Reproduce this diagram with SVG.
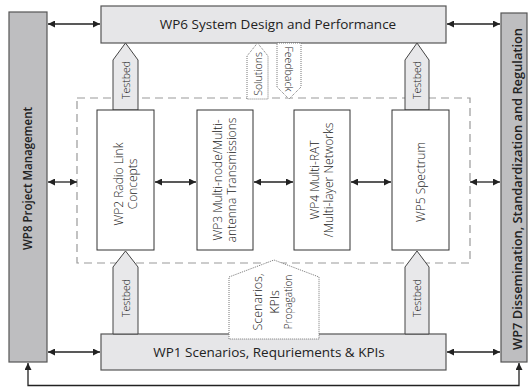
<svg xmlns="http://www.w3.org/2000/svg" width="529" height="387" viewBox="0 0 529 387">
<style>
text{font-family:"Open Sans","Noto Sans","Liberation Sans",sans-serif;fill:#222}
.side{fill:#bebec0;stroke:#555;stroke-width:1.2}
.wide{fill:#e6e6e8;stroke:#555;stroke-width:1.2}
.inner{fill:#fff;stroke:#333;stroke-width:1}
.tb{fill:#e8e8ea;stroke:#444;stroke-width:1}
.dot{fill:#fff;stroke:#777;stroke-width:1;stroke-dasharray:1,1}
.con{fill:none;stroke:#222;stroke-width:1.3}
.big{font-size:13.5px;text-anchor:middle}
.bold{font-size:12.5px;font-weight:600;text-anchor:middle}
.in{font-size:12px;font-weight:300;text-anchor:middle}
.lab{font-size:10.5px;font-weight:300;text-anchor:middle}
.sm{font-size:10.5px;font-weight:300;text-anchor:middle}
</style>
<defs>
<marker id="ah" viewBox="0 0 8 8" refX="8" refY="4" markerWidth="7" markerHeight="7" markerUnits="userSpaceOnUse" orient="auto-start-reverse">
<path d="M0,0 L8,4 L0,8 z" fill="#222"/>
</marker>
</defs>
<rect x="77" y="98" width="393" height="165" fill="none" stroke="#999" stroke-width="1.2" stroke-dasharray="8,5"/>
<g id="connectors">
<line class="con" x1="48" y1="24" x2="100" y2="24" marker-start="url(#ah)" marker-end="url(#ah)"/>
<line class="con" x1="447" y1="24" x2="500" y2="24" marker-start="url(#ah)" marker-end="url(#ah)"/>
<line class="con" x1="48" y1="352" x2="100" y2="352" marker-start="url(#ah)" marker-end="url(#ah)"/>
<line class="con" x1="447" y1="352" x2="500" y2="352" marker-start="url(#ah)" marker-end="url(#ah)"/>
<line class="con" x1="48" y1="182" x2="77" y2="182" marker-start="url(#ah)" marker-end="url(#ah)"/>
<line class="con" x1="470" y1="182" x2="500" y2="182" marker-start="url(#ah)" marker-end="url(#ah)"/>
<line class="con" x1="155" y1="182" x2="196" y2="182" marker-start="url(#ah)" marker-end="url(#ah)"/>
<line class="con" x1="254" y1="182" x2="293" y2="182" marker-start="url(#ah)" marker-end="url(#ah)"/>
<line class="con" x1="351" y1="182" x2="391" y2="182" marker-start="url(#ah)" marker-end="url(#ah)"/>
<path class="con" d="M519,363 L519,385.5 L28,385.5 L28,363" marker-start="url(#ah)" marker-end="url(#ah)"/>
</g>
<g id="wp8">
<rect class="side" x="9" y="12" width="38" height="350"/>
<text class="bold" transform="translate(32,178.5) rotate(-90)" textLength="143" lengthAdjust="spacingAndGlyphs">WP8 Project Management</text>
</g>
<g id="wp7">
<rect class="side" x="501" y="13" width="26" height="349"/>
<text class="bold" transform="translate(522,189) rotate(-90)" textLength="322" lengthAdjust="spacingAndGlyphs">WP7 Dissemination, Standardization and Regulation</text>
</g>
<g id="wp6">
<rect class="wide" x="101" y="6" width="345" height="37"/>
<text class="big" x="278" y="29">WP6 System Design and Performance</text>
</g>
<g id="wp1">
<rect class="wide" x="101" y="334" width="345" height="36"/>
<text class="big" x="269" y="357">WP1 Scenarios, Requriements &amp; KPIs</text>
</g>
<g id="testbed-wp2-top">
<path class="tb" d="M113,110 L113,60 L125.5,43 L138,60 L138,110 z"/>
<text class="lab" transform="translate(129.5,80) rotate(-90)">Testbed</text>
</g>
<g id="testbed-wp5-top">
<path class="tb" d="M405,110 L405,60 L417,43 L429,60 L429,110 z"/>
<text class="lab" transform="translate(421,80) rotate(-90)">Testbed</text>
</g>
<g id="testbed-wp2-bottom">
<path class="tb" d="M113,334 L113,267 L125.5,251 L138,267 L138,334 z"/>
<text class="lab" transform="translate(129.5,298) rotate(-90)">Testbed</text>
</g>
<g id="testbed-wp5-bottom">
<path class="tb" d="M405,334 L405,267 L417,251 L429,267 L429,334 z"/>
<text class="lab" transform="translate(421,298) rotate(-90)">Testbed</text>
</g>
<g id="solutions">
<path class="dot" d="M247,99 L247,56 L257.5,43 L268,56 L268,99 z"/>
<text class="sm" transform="translate(261.5,74) rotate(-90)">Solutions</text>
</g>
<g id="feedback">
<path class="dot" d="M277,43 L301,43 L301,87 L289,99 L277,87 z"/>
<text class="sm" transform="translate(285,69) rotate(90)">Feedback</text>
</g>
<g id="scenarios">
<path class="dot" d="M229,339 L229,277 L274,260 L319,277 L319,339 z"/>
<text transform="translate(262,302) rotate(-90)" style="font-size:12.5px;font-weight:300;text-anchor:middle">Scenarios,</text>
<text transform="translate(279,302) rotate(-90)" style="font-size:12.5px;font-weight:300;text-anchor:middle">KPIs</text>
<text transform="translate(292,302) rotate(-90)" style="font-size:10px;font-weight:300;text-anchor:middle">Propagation</text>
</g>
<g id="wp2">
<rect class="inner" x="97" y="110" width="57" height="140"/>
<text class="in" transform="translate(123,184) rotate(-90)">WP2 Radio Link</text>
<text class="in" transform="translate(137,184) rotate(-90)">Concepts</text>
</g>
<g id="wp3">
<rect class="inner" x="197" y="110" width="56" height="140"/>
<text class="in" transform="translate(222,180) rotate(-90)">WP3 Multi-node/Multi-</text>
<text class="in" transform="translate(236,180) rotate(-90)">antenna Transmissions</text>
</g>
<g id="wp4">
<rect class="inner" x="294" y="110" width="56" height="140"/>
<text class="in" transform="translate(319,180) rotate(-90)">WP4 Multi-RAT</text>
<text class="in" transform="translate(333,180) rotate(-90)">/Multi-layer Networks</text>
</g>
<g id="wp5">
<rect class="inner" x="392" y="110" width="57" height="140"/>
<text class="in" transform="translate(425,182) rotate(-90)">WP5 Spectrum</text>
</g>
</svg>
